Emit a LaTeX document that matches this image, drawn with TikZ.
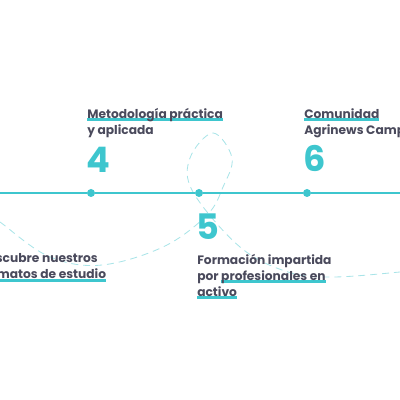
\documentclass[tikz,border=0pt]{standalone}
\usepackage{fontspec}
\setmainfont{Poppins}
\usetikzlibrary{positioning}

\definecolor{tealmark}{HTML}{3EC6CE}
\definecolor{tealpale}{HTML}{A9E4E8}
\definecolor{inkgray}{HTML}{4A4A5C}

% highlighter stroke drawn behind a piece of text
\newcommand{\hlmark}[1]{\setbox0\hbox{#1}\rlap{\color{tealmark}\rule[-2pt]{\wd0}{2.2pt}}\box0}

\begin{document}
\begin{tikzpicture}[
    dot/.style={circle, fill=tealmark, inner sep=0pt, minimum size=2mm},
    caption/.style={anchor=north west, inner sep=0pt, align=left, text=inkgray,
        font=\fontsize{8.7}{11.4}\selectfont\bfseries},
    bignum/.style={anchor=base west, inner sep=0pt, text=tealmark,
        font=\fontsize{25}{25}\selectfont\bfseries},
    timeline/.style={draw=tealmark, line width=1.4pt},
    loopline/.style={draw=tealpale, line width=0.6pt, dash pattern=on 5pt off 3.5pt},
]
    \useasboundingbox (0,0) rectangle (10,10);

    % dashed loop behind everything
    \draw[loopline] plot[smooth, tension=0.6] coordinates {
        (-0.25,4.62) (0,4.45) (1.2,3.6) (2.5,3.37) (4.075,3.825) (5.175,4.625)
        (5.575,5.325) (5.8,6.05) (5.325,6.675) (4.75,6.05) (4.825,5.2)
        (6.0,3.825) (7.2,3.2) (8.325,3.075) (10,3.2) (10.3,3.25)};

    % timeline
    \coordinate (lineL) at (0,5.175);
    \coordinate (lineR) at (10,5.175);
    \node[dot] (dot4) at (2.275,5.175) {};
    \node[dot] (dot5) at (4.975,5.175) {};
    \node[dot] (dot6) at (7.675,5.175) {};
    \draw[timeline] (lineL) -- (dot4) -- (dot5) -- (dot6) -- (lineR);

    % step numbers
    \node[bignum] (num4) at (2.15,5.675) {4};
    \node[bignum] (num5) at (4.9,4.0) {5};
    \node[bignum] (num6) at (7.58,5.7) {6};

    % captions
    \node[caption] (cap3) at (-0.52,3.66) {Descubre nuestros\\\hlmark{formatos de estudio}};
    \node[caption] (cap4) at (2.175,7.3) {\hlmark{Metodología práctica}\\y aplicada};
    \node[caption] (cap5) at (4.925,3.66) {Formación impartida\\por \hlmark{profesionales en}\\\hlmark{activo}};
    \node[caption] (cap6) at (7.6,7.3) {\hlmark{Comunidad}\\Agrinews Campus};
\end{tikzpicture}
\end{document}
